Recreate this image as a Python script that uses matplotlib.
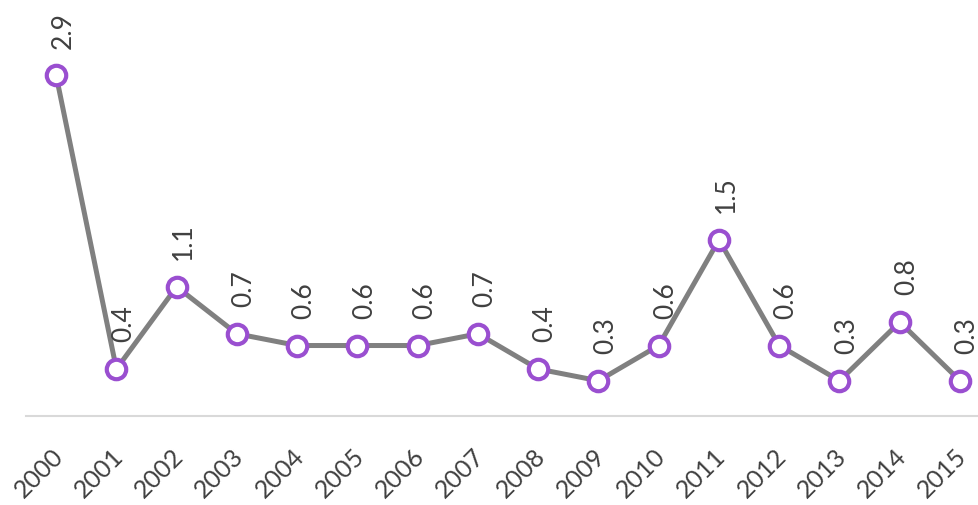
import numpy as np
import matplotlib.pyplot as plt
import matplotlib.transforms as mtransforms

years = [str(y) for y in range(2000, 2016)]
values = [2.9, 0.4, 1.1, 0.7, 0.6, 0.6, 0.6, 0.7, 0.4, 0.3, 0.6, 1.5, 0.6, 0.3, 0.8, 0.3]

plt.rcParams['font.family'] = ['Lato', 'DejaVu Sans']
text_col = '#404040'

fig = plt.figure(figsize=(9.79, 5.06), dpi=100)
ax = fig.add_axes([26 / 979, 89 / 506, 1 - 26 / 979, 1 - 89 / 506])

x = np.arange(len(values))
ax.plot(x, values, color='#808080', lw=3.6, marker='o', ms=14,
        mfc='white', mec='#9a4fd0', mew=3, zorder=3, clip_on=False)

for xi, v in zip(x, values):
    ax.annotate(f'{v:.1f}', (xi, v), xytext=(5, 20), textcoords='offset points',
                rotation=90, ha='center', va='bottom', fontsize=19, color=text_col)

ax.set_xlim(-0.5, 15.315)
ax.set_ylim(0, 3.55)
ax.set_yticks([])
ax.set_xticks(x)
ax.set_xticklabels(years, rotation=45, ha='right', fontsize=18, color=text_col)
ax.tick_params(axis='x', length=0, pad=20)
offset = mtransforms.ScaledTranslation(8 / 72, 0, fig.dpi_scale_trans)
for lab in ax.get_xticklabels():
    lab.set_transform(lab.get_transform() + offset)

for s in ['top', 'right', 'left']:
    ax.spines[s].set_visible(False)
ax.spines['bottom'].set_color('#d9d9d9')
ax.spines['bottom'].set_linewidth(1.5)
ax.patch.set_alpha(0)

fig.savefig('out.png', dpi=100)
